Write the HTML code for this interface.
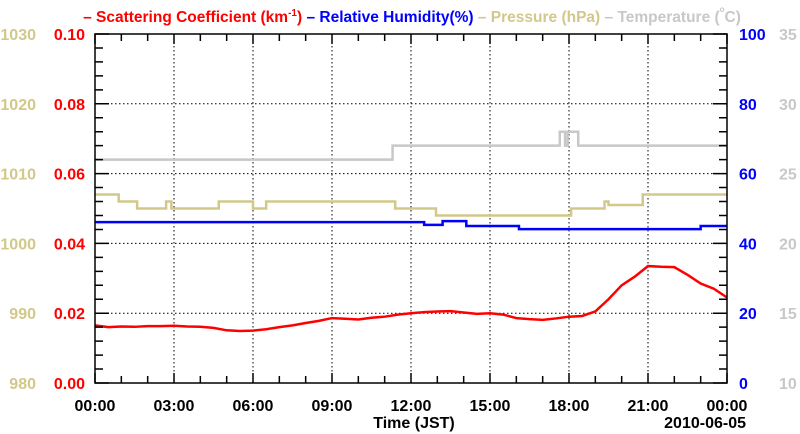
<!DOCTYPE html>
<html><head><meta charset="utf-8"><style>
body{margin:0;background:#fff}
svg{display:block;font-family:"Liberation Sans",sans-serif;font-weight:bold}
</style></head><body>
<svg id="c" width="800" height="434">
<text x="412" y="22" text-anchor="middle" font-size="15.5"><tspan fill="#ff0000">– Scattering Coefficient (km</tspan><tspan fill="#ff0000" font-size="10" dy="-6">-1</tspan><tspan fill="#ff0000" dy="6">) </tspan><tspan fill="#0000ff">– Relative Humidity(%) </tspan><tspan fill="#d2c88a">– Pressure (hPa) </tspan><tspan fill="#c8c8c8">– Temperature (</tspan><tspan fill="#c8c8c8" font-size="8" dy="-10">o</tspan><tspan fill="#c8c8c8" dy="10">C)</tspan></text>
<g id="grid"></g><g id="series"></g><g id="axes"></g>
</svg>
<script>
const xTicks=["00:00","03:00","06:00","09:00","12:00","15:00","18:00","21:00","00:00"];
const scatTicks=["0.00","0.02","0.04","0.06","0.08","0.10"];
const presTicks=["980","990","1000","1010","1020","1030"];
const rhTicks=["0","20","40","60","80","100"];
const tempTicks=["10","15","20","25","30","35"];
const scatHours=[0,0.5,1,1.5,2,2.5,3,3.5,4,4.5,5,5.5,6,6.5,7,7.5,8,8.5,9,9.5,10,10.5,11,11.5,12,12.5,13,13.5,14,14.5,15,15.5,16,16.5,17,17.5,18,18.5,19,19.5,20,20.5,21,21.5,22,22.5,23,23.5,24];
const scatVals=[0.0165,0.016,0.0162,0.0161,0.0163,0.0163,0.0164,0.0162,0.0161,0.0158,0.0151,0.0149,0.015,0.0154,0.016,0.0165,0.0172,0.0178,0.0186,0.0184,0.0182,0.0187,0.019,0.0196,0.02,0.0203,0.0205,0.0206,0.0202,0.0198,0.02,0.0196,0.0186,0.0183,0.0181,0.0185,0.019,0.0192,0.0205,0.024,0.028,0.0305,0.0335,0.0333,0.0332,0.031,0.0285,0.027,0.0245];
const presHours=[0,0.9,1.6,2.7,2.9,4.7,6.0,6.5,11.4,12.95,18.08,19.35,19.5,20.8,24];
const presVals=[1007,1006,1005,1006,1005,1006,1005,1006,1005,1004,1005,1006,1005.5,1007,1007];
const rhHours=[0,12.5,13.2,14.1,16.1,23.0,24];
const rhVals=[46.1,45.3,46.4,45.0,44.1,45.0,45.0];
const tempHours=[0,11.3,17.65,17.85,17.95,18.35,24];
const tempVals=[26,27,28,27,28,27,27];
const L=95,R=727,T=34,B=383,NS="http://www.w3.org/2000/svg";
const X=h=>L+(R-L)*h/24;
const yS=v=>B-(B-T)*v/0.1, yP=v=>B-(B-T)*(v-980)/50, yH=v=>B-(B-T)*v/100, yT=v=>B-(B-T)*(v-10)/25;
function el(t,a,p){const e=document.createElementNS(NS,t);for(const k in a)e.setAttribute(k,a[k]);p.appendChild(e);return e;}
const g=document.getElementById('grid'),s=document.getElementById('series'),ax=document.getElementById('axes');
for(let i=1;i<8;i++){const l=el('line',{x1:X(i*3),x2:X(i*3),y1:T,y2:B,stroke:'#000','stroke-width':1,'stroke-dasharray':'1.5,2.5'},g);

}
for(let i=1;i<5;i++){const y=B-(B-T)*i/5;const l=el('line',{x1:L,x2:R,y1:y,y2:y,stroke:'#000','stroke-width':1,'stroke-dasharray':'1.5,2.5'},g);

}
function step(hs,vs,yf,col,name){let d='M'+X(hs[0])+','+yf(vs[0]);for(let i=1;i<hs.length;i++){d+='L'+X(hs[i])+','+yf(vs[i-1])+'L'+X(hs[i])+','+yf(vs[i]);}
const p=el('path',{d:d,fill:'none',stroke:col,'stroke-width':2.5},s);

}
step(tempHours,tempVals,yT,'#c8c8c8','temperature-line');
step(presHours,presVals,yP,'#d2c88a','pressure-line');
step(rhHours,rhVals,yH,'#0000ff','humidity-line');
{let d='';scatHours.forEach((h,i)=>{d+=(i?'L':'M')+X(h)+','+yS(scatVals[i]);});
const p=el('path',{d:d,fill:'none',stroke:'#ff0000','stroke-width':2.5},s);

}
const fr=el('rect',{x:L,y:T,width:R-L,height:B-T,fill:'none',stroke:'#000','stroke-width':1.5},ax);


let td='';
for(let i=0;i<=24;i++){const x=X(i),len=i%3==0?10:7;td+=`M${x},${B}v${-len}M${x},${T}v${len}`;}
for(let i=0;i<=25;i++){const y=B-(B-T)*i/25,len=i%5==0?14:8;td+=`M${L},${y}h${len}M${R},${y}h${-len}`;}
const tk=el('path',{d:td,stroke:'#000','stroke-width':1.5,fill:'none'},ax);


function txt(x,y,str,col,anc,size,name){const t=el('text',{x:x,y:y,fill:col,'text-anchor':anc,'font-size':size},ax);t.textContent=str;

return t;}
xTicks.forEach((t,i)=>txt(X(i*3),411,t,'#000','middle',16,'x-tick-label'));
for(let i=0;i<6;i++){const y=B-(B-T)*i/5+6;
txt(85,y,scatTicks[i],'#ff0000','end',16,'scattering-tick-label');
txt(36,y,presTicks[i],'#d2c88a','end',16,'pressure-tick-label');
txt(739,y,rhTicks[i],'#0000ff','start',16,'humidity-tick-label');
txt(779,y,tempTicks[i],'#c8c8c8','start',16,'temperature-tick-label');}
txt(414,428,'Time (JST)','#000','middle',16,'x-axis-title');
txt(746,428,'2010-06-05','#000','end',16,'date-label');
</script>
</body></html>
